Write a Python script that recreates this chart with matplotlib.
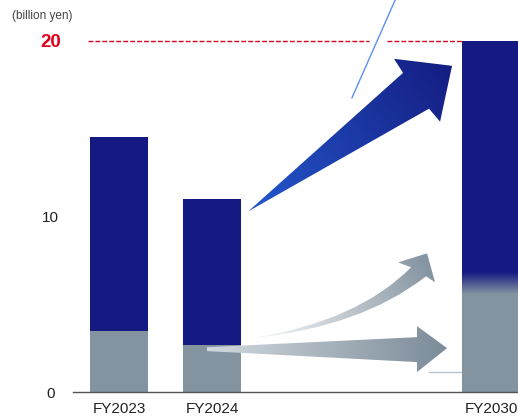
import numpy as np
import matplotlib
matplotlib.use("Agg")
import matplotlib.pyplot as plt
from matplotlib.path import Path
from matplotlib.patches import PathPatch
from matplotlib.colors import to_rgb

plt.rcParams['font.family'] = ['Liberation Sans', 'DejaVu Sans']

# data (billion yen)
years = ["FY2023", "FY2024", "FY2030"]
xpos = [0, 1, 4]
gray_part = [3.5, 2.7, 5.6]
navy_part = [11.0, 8.3, 13.2]   # stacked on top of the gray part
blend = [0.0, 0.0, 1.2]          # FY2030 has a soft transition between the parts
target = 20

navy = "#141a82"
slate = "#8393a0"

fig = plt.figure(figsize=(5.18, 4.20), dpi=100)
ax = fig.add_axes([73 / 518, 28 / 420, 445 / 518, 392 / 420])
ax.set_xlim(-0.495, 4.29)
ax.set_ylim(0, 22.33)

bw = 0.624
for x, g, n, b in zip(xpos, gray_part, navy_part, blend):
    ax.bar(x, g, width=bw, color=slate, linewidth=0, zorder=2)
    ax.bar(x, n, bottom=g + b, width=bw, color=navy, linewidth=0, zorder=2)
    if b > 0:
        grad = np.linspace(0, 1, 64)[:, None, None]
        c0, c1 = np.array(to_rgb(slate)), np.array(to_rgb(navy))
        img = c0 + (c1 - c0) * grad
        ax.imshow(img, extent=(x - bw / 2, x + bw / 2, g, g + b), origin='lower',
                  aspect='auto', zorder=2, interpolation='bilinear')


def grad_patch(verts, codes, c0, c1, p0, p1, z=3):
    path = Path(verts, codes)
    patch = PathPatch(path, facecolor='none', edgecolor='none', zorder=z)
    ax.add_patch(patch)
    xs = np.linspace(-0.5, 4.3, 400)
    ys = np.linspace(0, 22.33, 400)
    X, Y = np.meshgrid(xs, ys)
    # measure the gradient direction in screen-like units
    sx, sy = 93.0, 17.6
    d = np.array([(p1[0] - p0[0]) * sx, (p1[1] - p0[1]) * sy])
    t = ((X - p0[0]) * sx * d[0] + (Y - p0[1]) * sy * d[1]) / (d @ d)
    t = np.clip(t, 0, 1)[..., None]
    a, b = np.array(to_rgb(c0)), np.array(to_rgb(c1))
    img = a + (b - a) * t
    im = ax.imshow(img, extent=(-0.5, 4.3, 0, 22.33), origin='lower',
                   aspect='auto', zorder=z, interpolation='bilinear')
    im.set_clip_path(patch)


L, C3, C = Path.LINETO, Path.CURVE3, Path.CLOSEPOLY

# big blue arrow
blue_arrow = [(1.387, 10.28), (3.054, 18.18), (2.957, 18.98), (3.581, 18.58),
              (3.452, 15.40), (3.333, 16.14), (1.387, 10.28)]
grad_patch(blue_arrow, [Path.MOVETO] + [L] * 5 + [C], "#2458cc", "#141d82",
           (1.387, 10.28), (3.581, 18.58))

# straight gray arrow
flat_arrow = [(0.946, 2.55), (3.204, 3.125), (3.204, 3.75), (3.527, 2.50),
              (3.204, 1.136), (3.204, 1.705), (0.946, 2.33), (0.946, 2.55)]
grad_patch(flat_arrow, [Path.MOVETO] + [L] * 6 + [C], "#d2dae0", "#7b8b98",
           (0.946, 2.44), (3.527, 2.50))

# curved gray arrow
curve_arrow = [(1.430, 3.068), (2.570, 4.034), (3.140, 7.102), (3.0, 7.386),
               (3.312, 7.898), (3.398, 6.25), (3.301, 6.591), (2.602, 3.693),
               (1.430, 3.068), (1.430, 3.068)]
curve_codes = [Path.MOVETO, C3, C3, L, L, L, L, C3, C3, C]
grad_patch(curve_arrow, curve_codes, "#f2f4f6", "#8494a1",
           (1.6, 3.0), (3.3, 7.6))

# target line at 20 with a gap for the callout
ax.plot([-0.333, 2.688], [target, target], color="#d4001f", lw=1.0,
        dashes=(3.5, 1.5), zorder=1)
ax.plot([2.882, 3.688], [target, target], color="#d4001f", lw=1.0,
        dashes=(3.5, 1.5), zorder=1)
ax.plot([2.505, 3.05], [16.76, 23.3], color="#5b8ff0", lw=1, zorder=4)
ax.plot([3.333, 3.688], [1.136, 1.136], color="#b8c2ca", lw=1, zorder=1)

for s in ["left", "right", "top"]:
    ax.spines[s].set_visible(False)
ax.spines["bottom"].set_color("#555555")
ax.spines["bottom"].set_linewidth(1)

ax.set_xticks(xpos)
ax.set_xticklabels(years, fontsize=11, color="#222222")
ax.tick_params(axis='x', length=0, pad=7)
ax.set_yticks([0, 10, 20])
ax.set_yticklabels(["0", "10", "20"], fontsize=11, color="#222222")
ax.tick_params(axis='y', length=0, pad=16)
for lab in ax.get_yticklabels():
    lab.set_horizontalalignment('center')
lab20 = ax.get_yticklabels()[2]
lab20.set_color("#e0001b")
lab20.set_fontweight('bold')
lab20.set_fontsize(13.5)

fig.text(42 / 518, 1 - 16 / 420, "(billion yen)", fontsize=8.5, color="#444444",
         ha='center', va='center')

fig.savefig("out.png", dpi=100)
